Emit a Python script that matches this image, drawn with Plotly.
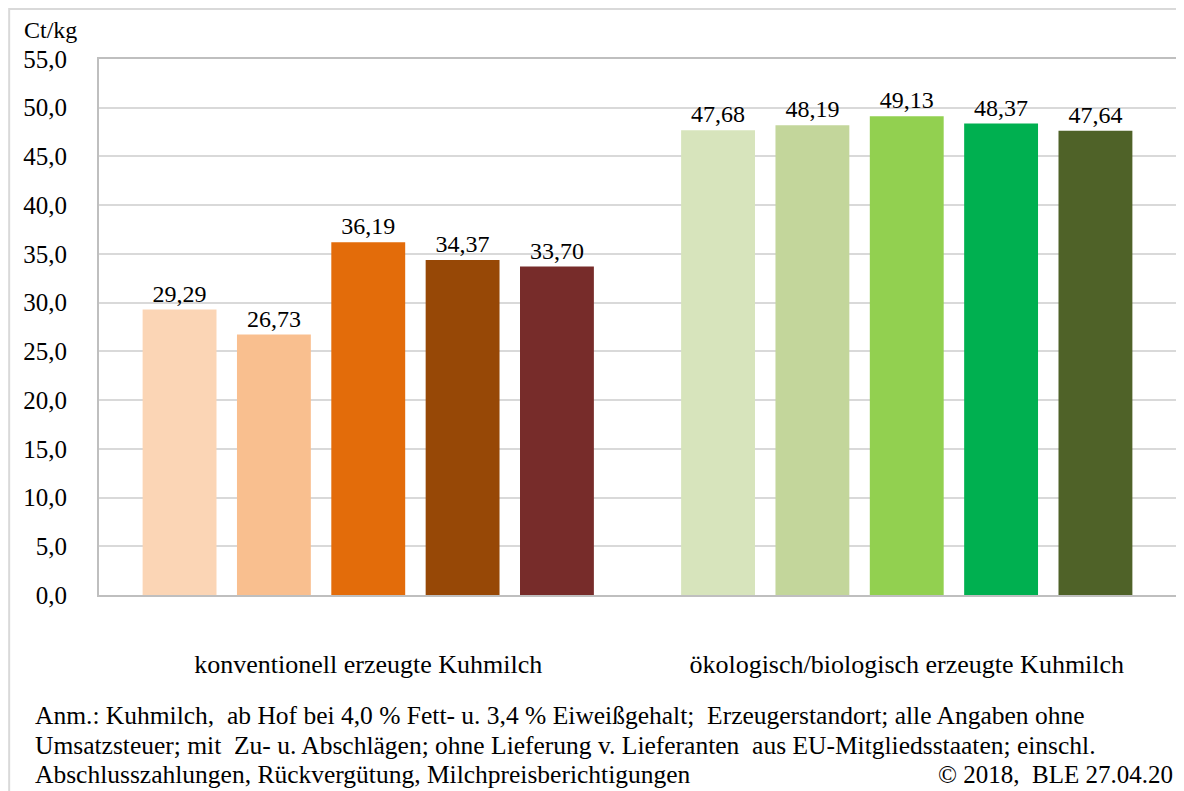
import plotly.graph_objects as go

categories = ["konventionell erzeugte Kuhmilch", "ökologisch/biologisch erzeugte Kuhmilch"]
konventionell = [29.29, 26.73, 36.19, 34.37, 33.70]
oekologisch = [47.68, 48.19, 49.13, 48.37, 47.64]
colors_konv = ["#FBD5B5", "#F9BF8F", "#E36C0A", "#974806", "#772C2A"]
colors_oeko = ["#D7E4BC", "#C3D69B", "#92D050", "#00B050", "#4F6228"]
y_ticks = [0, 5, 10, 15, 20, 25, 30, 35, 40, 45, 50, 55]
footnote_lines = [
    "Anm.: Kuhmilch,  ab Hof bei 4,0 % Fett- u. 3,4 % Eiweißgehalt;  Erzeugerstandort; alle Angaben ohne",
    "Umsatzsteuer; mit  Zu- u. Abschlägen; ohne Lieferung v. Lieferanten  aus EU-Mitgliedsstaaten; einschl.",
    "Abschlusszahlungen, Rückvergütung, Milchpreisberichtigungen",
]
copyright_text = "© 2018,  BLE 27.04.20"

FONT = "Liberation Serif, Times New Roman, serif"

fig = go.Figure()
for i in range(5):
    fig.add_trace(go.Bar(
        x=categories,
        y=[konventionell[i], oekologisch[i]],
        marker=dict(color=[colors_konv[i], colors_oeko[i]], line=dict(width=0)),
        texttemplate="%{y:.2f}",
        textposition="outside",
        textfont=dict(family=FONT, size=24, color="#000000"),
        cliponaxis=False,
        showlegend=False,
    ))

# page body has an 8px margin; work in page pixels and subtract it
OFF = 8
W, H = 1184 - OFF, 791 - OFF
ml, mr, mt, mb = 99 - OFF, 6, 59 - OFF, 196
pw = W - ml - mr
ph = H - mt - mb

def px_x(x):
    return (x - OFF - ml) / pw

def px_y(y):
    return (H - mb - (y - OFF)) / ph

annotations = [
    dict(text="Ct/kg", xref="paper", yref="paper", x=px_x(22), y=px_y(30),
         xanchor="left", yanchor="middle", showarrow=False,
         font=dict(family=FONT, size=24)),
    dict(text=copyright_text, xref="paper", yref="paper",
         x=px_x(1177), y=px_y(774), xanchor="right", yanchor="middle",
         showarrow=False, font=dict(family=FONT, size=25)),
]
for line, yc in zip(footnote_lines, [715, 745, 774]):
    annotations.append(dict(
        text=line, xref="paper", yref="paper", x=px_x(33), y=px_y(yc),
        xanchor="left", yanchor="middle", align="left", showarrow=False,
        font=dict(family=FONT, size=25.5)))

fig.update_layout(
    width=W, height=H,
    margin=dict(l=ml, r=mr, t=mt, b=mb),
    barmode="group",
    bargap=0.124,
    bargroupgap=0.217,
    separators=",.",
    paper_bgcolor="white",
    plot_bgcolor="white",
    font=dict(family=FONT, size=22, color="#000000"),
    xaxis=dict(
        showgrid=False,
        showline=True, linecolor="#BFBFBF", linewidth=2, mirror=True,
        ticks="", ticklabelstandoff=45,
        tickfont=dict(family=FONT, size=26),
    ),
    yaxis=dict(
        range=[0, 55],
        tickvals=y_ticks,
        tickformat=".1f",
        showgrid=True, gridcolor="#D9D9D9", gridwidth=2,
        showline=True, linecolor="#BFBFBF", linewidth=2, mirror=True,
        zeroline=False,
        ticks="", ticklabelstandoff=25,
        tickfont=dict(family=FONT, size=25),
    ),
    shapes=[dict(
        type="rect", xref="paper", yref="paper",
        x0=px_x(9), x1=px_x(1220), y0=px_y(820), y1=px_y(9),
        line=dict(color="#D9D9D9", width=2), layer="below",
    )],
    annotations=annotations,
)

fig.write_html("out.html")
